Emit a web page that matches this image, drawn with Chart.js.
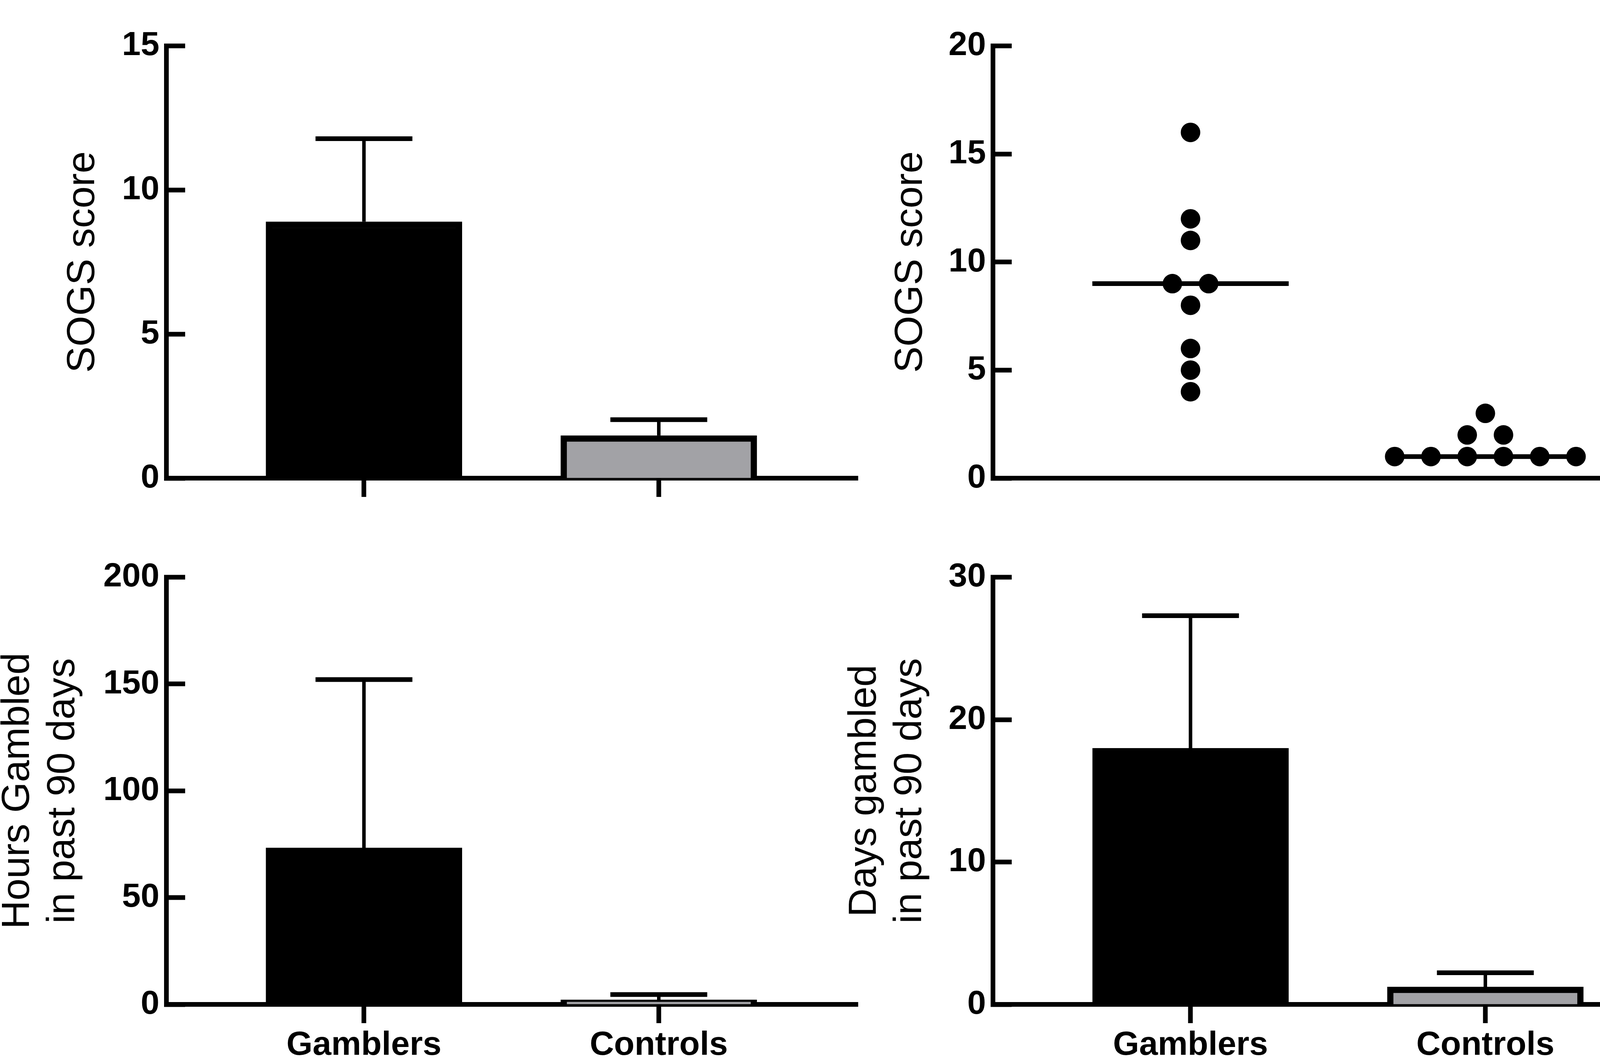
<!DOCTYPE html>
<html>
<head>
<meta charset="utf-8">
<script src="https://cdn.jsdelivr.net/npm/chart.js@4.4.7/dist/chart.umd.min.js"></script>
<style>
  html, body { margin: 0; padding: 0; background: #ffffff; }
  body { width: 4319px; height: 2721px; position: relative; overflow: hidden; }
  canvas { position: absolute; }
</style>
</head>
<body>
<canvas id="sogsBar" width="2200" height="1360" style="left:0;top:0;width:2200px;height:1360px"></canvas>
<canvas id="sogsDots" width="2219" height="1360" style="left:2100px;top:0;width:2219px;height:1360px"></canvas>
<canvas id="hoursBar" width="2200" height="1361" style="left:0;top:1360px;width:2200px;height:1361px"></canvas>
<canvas id="daysBar" width="2219" height="1361" style="left:2100px;top:1360px;width:2219px;height:1361px"></canvas>
<script>
// values
const categories = ["Gamblers", "Controls"];

const sogsMeans = [8.9, 1.48];
const sogsErrorTops = [11.78, 2.03];
const sogsTicks = [0, 5, 10, 15];

const gamblersSogs = [16, 12, 11, 9, 9, 8, 6, 5, 4];
const controlsSogs = [3, 2, 2, 1, 1, 1, 1, 1, 1];
const sogsDotTicks = [0, 5, 10, 15, 20];

const hoursMeans = [73.3, 2.2];
const hoursErrorTops = [152.1, 4.6];
const hoursTicks = [0, 50, 100, 150, 200];

const daysMeans = [18.0, 1.23];
const daysErrorTops = [27.3, 2.22];
const daysTicks = [0, 10, 20, 30];

const FONT = "'Liberation Sans', Arial, Helvetica, sans-serif";
const X_MIN = -0.67;
const X_MAX = 1.675;
const DOT_SPREAD = 0.123;
const MEDIAN_HALF = 0.333;
const barFills = ["#000000", "#a2a2a6"];

const errorBarPlugin = {
  id: "errorBars",
  afterDatasetsDraw(chart, args, opts) {
    if (!opts.tops) {
      return;
    }
    const { ctx } = chart;
    const x = chart.scales.x;
    const y = chart.scales.y;
    ctx.save();
    ctx.strokeStyle = "#000000";
    ctx.lineCap = "butt";
    opts.tops.forEach((top, index) => {
      const cx = x.getPixelForValue(index);
      const yMean = y.getPixelForValue(opts.means[index]);
      const yTop = y.getPixelForValue(top);
      ctx.lineWidth = opts.stemWidth;
      ctx.beginPath();
      ctx.moveTo(cx, yMean);
      ctx.lineTo(cx, yTop);
      ctx.stroke();
      ctx.lineWidth = opts.capThickness;
      ctx.beginPath();
      ctx.moveTo(cx - opts.capWidth / 2, yTop);
      ctx.lineTo(cx + opts.capWidth / 2, yTop);
      ctx.stroke();
    });
    ctx.restore();
  },
};

function median(values) {
  const sorted = [...values].sort((a, b) => a - b);
  const mid = Math.floor(sorted.length / 2);
  return sorted.length % 2 ? sorted[mid] : (sorted[mid - 1] + sorted[mid]) / 2;
}

// side-by-side placement of equal values around the group centre
function spreadPoints(values, center) {
  const counts = {};
  values.forEach((value) => {
    counts[value] = (counts[value] || 0) + 1;
  });
  const seen = {};
  return values.map((value) => {
    seen[value] = seen[value] === undefined ? 0 : seen[value] + 1;
    const offset = (seen[value] - (counts[value] - 1) / 2) * DOT_SPREAD;
    return { x: center + offset, y: value };
  });
}

function chartOptions(cfg) {
  return {
    responsive: false,
    animation: false,
    events: [],
    layout: {
      autoPadding: false,
      padding: { left: 0, top: cfg.topPad, right: cfg.rightPad, bottom: 0 },
    },
    plugins: {
      legend: { display: false },
      tooltip: { enabled: false },
      errorBars: cfg.errorBars || {},
    },
    scales: {
      x: {
        type: "linear",
        min: X_MIN,
        max: X_MAX,
        offset: false,
        z: 1,
        afterBuildTicks(scale) {
          scale.ticks = categories.map((_, index) => ({ value: index }));
        },
        afterFit(scale) {
          scale.height = cfg.xHeight;
        },
        border: { display: true, color: "#000000", width: 12 },
        grid: {
          display: true,
          offset: false,
          drawOnChartArea: false,
          drawTicks: cfg.drawXTicks,
          tickLength: 48,
          tickWidth: 12,
          tickColor: "#000000",
        },
        ticks: {
          display: cfg.showXLabels,
          autoSkip: false,
          maxRotation: 0,
          color: "#000000",
          padding: 6,
          font: { family: FONT, size: 86, weight: "bold", lineHeight: 1.2 },
          callback: (value) => categories[value] || "",
        },
      },
      y: {
        type: "linear",
        min: 0,
        max: cfg.yTicks[cfg.yTicks.length - 1],
        afterBuildTicks(scale) {
          scale.ticks = cfg.yTicks.map((value) => ({ value }));
        },
        afterFit(scale) {
          scale.width = cfg.yWidth;
        },
        border: { display: true, color: "#000000", width: 12 },
        grid: {
          display: true,
          drawOnChartArea: false,
          drawTicks: true,
          tickLength: -48,
          tickWidth: 12,
          tickColor: "#000000",
        },
        ticks: {
          color: "#000000",
          padding: 66,
          font: { family: FONT, size: 86, weight: "bold" },
        },
        title: {
          display: true,
          text: cfg.title,
          color: "#000000",
          font: { family: FONT, size: 101, weight: "normal", lineHeight: 1.15 },
          padding: { top: cfg.titlePad, bottom: 0 },
        },
      },
    },
  };
}

function barChart(id, means, tops, cfg) {
  const options = chartOptions({
    ...cfg,
    errorBars: { means, tops, stemWidth: 9, capThickness: 12, capWidth: 248 },
  });
  return new Chart(document.getElementById(id), {
    type: "bar",
    data: {
      datasets: [
        {
          data: means.map((value, index) => ({ x: index, y: value })),
          backgroundColor: barFills,
          borderColor: "#000000",
          borderWidth: 16,
          borderSkipped: "start",
          barThickness: 502,
        },
      ],
    },
    options,
    plugins: [errorBarPlugin],
  });
}

function medianLine(values, center) {
  const m = median(values);
  return {
    type: "line",
    data: [
      { x: center - MEDIAN_HALF, y: m },
      { x: center + MEDIAN_HALF, y: m },
    ],
    borderColor: "#000000",
    borderWidth: 12,
    pointRadius: 0,
    fill: false,
  };
}

function dotChart(id, cfg) {
  const dotStyle = {
    backgroundColor: "#000000",
    borderWidth: 0,
    pointRadius: 25,
  };
  return new Chart(document.getElementById(id), {
    type: "scatter",
    data: {
      datasets: [
        { ...dotStyle, data: spreadPoints(gamblersSogs, 0) },
        { ...dotStyle, data: spreadPoints(controlsSogs, 1) },
        medianLine(gamblersSogs, 0),
        medianLine(controlsSogs, 1),
      ],
    },
    options: chartOptions(cfg),
  });
}

barChart("sogsBar", sogsMeans, sogsErrorTops, {
  yTicks: sogsTicks,
  title: "SOGS score",
  titlePad: 155,
  yWidth: 426,
  xHeight: 136,
  topPad: 48,
  rightPad: 4,
  drawXTicks: true,
  showXLabels: false,
});

dotChart("sogsDots", {
  yTicks: sogsDotTicks,
  title: "SOGS score",
  titlePad: 174,
  yWidth: 442,
  xHeight: 136,
  topPad: 48,
  rightPad: 7,
  drawXTicks: false,
  showXLabels: false,
});

barChart("hoursBar", hoursMeans, hoursErrorTops, {
  yTicks: hoursTicks,
  title: ["Hours Gambled", "in past 90 days"],
  titlePad: -12,
  yWidth: 426,
  xHeight: 150,
  topPad: 38,
  rightPad: 4,
  drawXTicks: true,
  showXLabels: true,
});

barChart("daysBar", daysMeans, daysErrorTops, {
  yTicks: daysTicks,
  title: ["Days gambled", "in past 90 days"],
  titlePad: 56,
  yWidth: 442,
  xHeight: 150,
  topPad: 38,
  rightPad: 7,
  drawXTicks: true,
  showXLabels: true,
});
</script>
</body>
</html>
